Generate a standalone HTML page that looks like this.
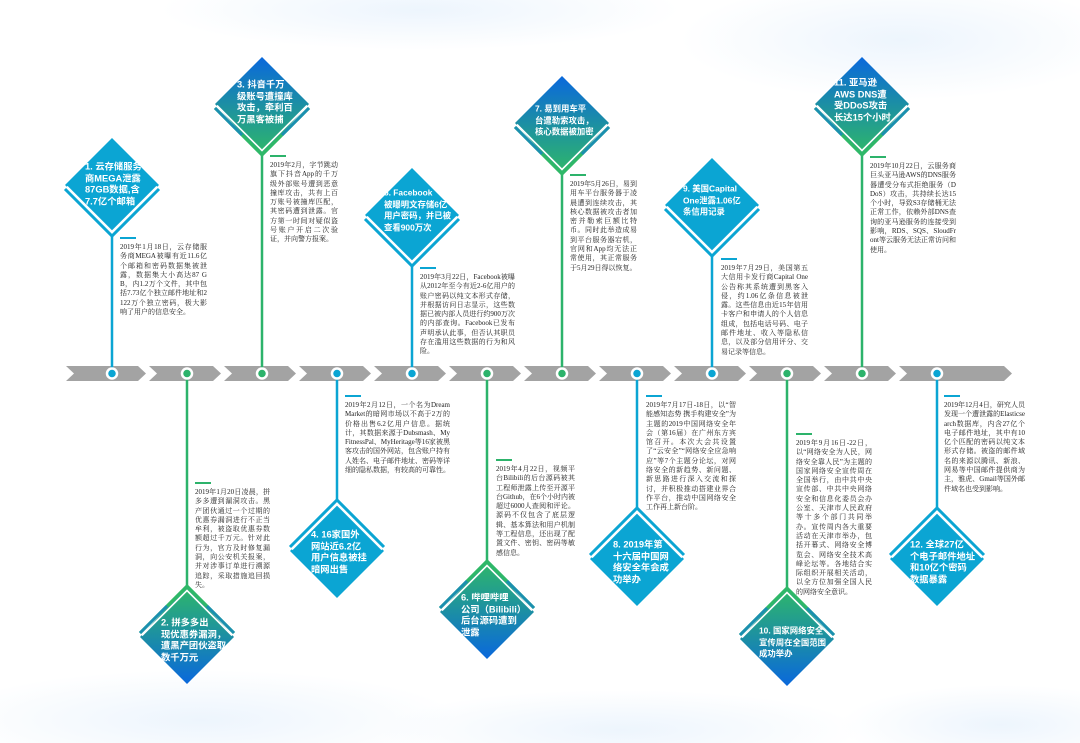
<!DOCTYPE html>
<html><head><meta charset="utf-8"><style>
html,body{margin:0;padding:0}
body{width:1080px;height:743px;position:relative;overflow:hidden;background:#fff;font-family:"Liberation Sans","Noto Sans CJK SC",sans-serif}
svg{position:absolute;left:0;top:0}
.t{position:absolute;color:#fff;font-size:9.3px;line-height:11.7px;font-weight:bold;white-space:nowrap;transform:translateY(-50%)}
.s{font-size:8.4px}
.d{position:absolute;font-family:"Liberation Serif","Noto Serif CJK SC",serif;font-size:7px;line-height:9.3px;color:#222;text-align:justify;word-break:break-all}
</style></head><body>
<svg width="1080" height="743" viewBox="0 0 1080 743">
<defs>
<linearGradient id="g" x1="0" y1="0" x2="0" y2="1"><stop offset="0" stop-color="#0a68dc"/><stop offset="1" stop-color="#2fb868"/></linearGradient>
<radialGradient id="bg1" cx="0.5" cy="0.5" r="0.5"><stop offset="0" stop-color="#edf5fd"/><stop offset="1" stop-color="#edf5fd" stop-opacity="0"/></radialGradient>
</defs>
<ellipse cx="420" cy="10" rx="260" ry="40" fill="url(#bg1)"/>
<ellipse cx="900" cy="40" rx="220" ry="60" fill="url(#bg1)"/>
<ellipse cx="200" cy="720" rx="260" ry="50" fill="url(#bg1)"/>
<ellipse cx="620" cy="730" rx="240" ry="40" fill="url(#bg1)"/>
<ellipse cx="1000" cy="725" rx="160" ry="40" fill="url(#bg1)"/>
<g fill="#a3a3a3">
<polygon points="66,366 138,366 146,373.5 138,381 66,381 74,373.5"/>
<polygon points="149,366 213,366 221,373.5 213,381 149,381 157,373.5"/>
<polygon points="224,366 288,366 296,373.5 288,381 224,381 232,373.5"/>
<polygon points="299,366 363,366 371,373.5 363,381 299,381 307,373.5"/>
<polygon points="374,366 438,366 446,373.5 438,381 374,381 382,373.5"/>
<polygon points="449,366 513,366 521,373.5 513,381 449,381 457,373.5"/>
<polygon points="524,366 588,366 596,373.5 588,381 524,381 532,373.5"/>
<polygon points="599,366 663,366 671,373.5 663,381 599,381 607,373.5"/>
<polygon points="674,366 738,366 746,373.5 738,381 674,381 682,373.5"/>
<polygon points="749,366 813,366 821,373.5 813,381 749,381 757,373.5"/>
<polygon points="824,366 888,366 896,373.5 888,381 824,381 832,373.5"/>
<polygon points="899,366 1004,366 1012,373.5 1004,381 899,381 907,373.5"/>
</g>
<g stroke-width="2.5">
<line x1="112" y1="234" x2="112" y2="373" stroke="#0ba5d3"/>
<line x1="262" y1="153" x2="262" y2="373" stroke="#2db36b"/>
<line x1="412" y1="264" x2="412" y2="373" stroke="#0ba5d3"/>
<line x1="562" y1="172" x2="562" y2="373" stroke="#2db36b"/>
<line x1="712" y1="254" x2="712" y2="373" stroke="#0ba5d3"/>
<line x1="862" y1="153" x2="862" y2="373" stroke="#2db36b"/>
<line x1="187" y1="373" x2="187" y2="588" stroke="#2db36b"/>
<line x1="337" y1="373" x2="337" y2="502" stroke="#0ba5d3"/>
<line x1="487" y1="373" x2="487" y2="563" stroke="#2db36b"/>
<line x1="637" y1="373" x2="637" y2="510" stroke="#0ba5d3"/>
<line x1="787" y1="373" x2="787" y2="590" stroke="#2db36b"/>
<line x1="937" y1="373" x2="937" y2="510" stroke="#0ba5d3"/>
</g>
<g stroke-width="2">
<line x1="120" y1="238" x2="136" y2="238" stroke="#0ba5d3"/>
<line x1="270" y1="156" x2="286" y2="156" stroke="#2db36b"/>
<line x1="420" y1="268" x2="436" y2="268" stroke="#0ba5d3"/>
<line x1="570" y1="175" x2="586" y2="175" stroke="#2db36b"/>
<line x1="721" y1="259" x2="737" y2="259" stroke="#0ba5d3"/>
<line x1="870" y1="157" x2="886" y2="157" stroke="#2db36b"/>
<line x1="195" y1="483" x2="211" y2="483" stroke="#2db36b"/>
<line x1="345" y1="396" x2="361" y2="396" stroke="#0ba5d3"/>
<line x1="496" y1="460" x2="512" y2="460" stroke="#2db36b"/>
<line x1="646" y1="396" x2="662" y2="396" stroke="#0ba5d3"/>
<line x1="796" y1="434" x2="812" y2="434" stroke="#2db36b"/>
<line x1="944" y1="396" x2="960" y2="396" stroke="#0ba5d3"/>
</g>
<g stroke="#fff" stroke-width="2.5">
<circle cx="112" cy="373.5" r="5" fill="#0ba5d3"/>
<circle cx="187" cy="373.5" r="5" fill="#2db36b"/>
<circle cx="262" cy="373.5" r="5" fill="#2db36b"/>
<circle cx="337" cy="373.5" r="5" fill="#0ba5d3"/>
<circle cx="412" cy="373.5" r="5" fill="#0ba5d3"/>
<circle cx="487" cy="373.5" r="5" fill="#2db36b"/>
<circle cx="562" cy="373.5" r="5" fill="#2db36b"/>
<circle cx="637" cy="373.5" r="5" fill="#0ba5d3"/>
<circle cx="712" cy="373.5" r="5" fill="#0ba5d3"/>
<circle cx="787" cy="373.5" r="5" fill="#2db36b"/>
<circle cx="862" cy="373.5" r="5" fill="#2db36b"/>
<circle cx="937" cy="373.5" r="5" fill="#0ba5d3"/>
</g>
<defs>
<g id="ds"><polygon points="0,-47 47,0 0,47 -47,0" fill="#0ba5d3"/><polyline points="-47,4 0,51 47,4" fill="none" stroke="#0ba5d3" stroke-width="3"/><polyline points="-45,1.5 0,46.5 45,1.5" fill="none" stroke="#fff" stroke-width="1.6"/></g>
<g id="dg"><polygon points="0,-47 47,0 0,51 -47,0" fill="url(#g)"/><polyline points="-47,4 0,51 47,4" fill="none" stroke="#2fb868" stroke-width="3"/><polyline points="-47,4 -20,31" fill="none" stroke="#1b8fb0" stroke-width="3"/><polyline points="47,4 20,31" fill="none" stroke="#1b8fb0" stroke-width="3"/><polyline points="-45,1.5 0,46.5 45,1.5" fill="none" stroke="#fff" stroke-width="1.6"/></g>
</defs>
<use href="#ds" transform="translate(112,185)"/>
<use href="#dg" transform="translate(262,104)"/>
<use href="#ds" transform="translate(412,215)"/>
<use href="#dg" transform="translate(562,123)"/>
<use href="#ds" transform="translate(712,205)"/>
<use href="#dg" transform="translate(862,104)"/>
<use href="#dg" transform="translate(187,637) scale(1,-1)"/>
<use href="#ds" transform="translate(337,551) scale(1,-1)"/>
<use href="#dg" transform="translate(487,612) scale(1,-1)"/>
<use href="#ds" transform="translate(637,559) scale(1,-1)"/>
<use href="#dg" transform="translate(787,639) scale(1,-1)"/>
<use href="#ds" transform="translate(937,559) scale(1,-1)"/>
</svg>

<div class="t" style="left:85px;top:185px">1. 云存储服务<br>商MEGA泄露<br>87GB数据,含<br>7.7亿个邮箱</div>
<div class="t" style="left:237px;top:103px">3. 抖音千万<br>级账号遭撞库<br>攻击，牵利百<br>万黑客被捕</div>
<div class="t s" style="left:384px;top:211px">5. Facebook<br>被曝明文存储6亿<br>用户密码，并已被<br>查看900万次</div>
<div class="t s" style="left:535px;top:121px">7. 易到用车平<br>台遭勒索攻击，<br>核心数据被加密</div>
<div class="t s" style="left:683px;top:201px">9. 美国Capital<br>One泄露1.06亿<br>条信用记录</div>
<div class="t" style="left:834px;top:101px">11. 亚马逊<br>AWS DNS遭<br>受DDoS攻击<br>长达15个小时</div>
<div class="t" style="left:161px;top:641px">2. 拼多多出<br>现优惠券漏洞，<br>遭黑产团伙盗取<br>数千万元</div>
<div class="t" style="left:311px;top:553px">4. 16家国外<br>网站近6.2亿<br>用户信息被挂<br>暗网出售</div>
<div class="t" style="left:461px;top:616px">6. 哔哩哔哩<br>公司（Bilibili）<br>后台源码遭到<br>泄露</div>
<div class="t" style="left:613px;top:563px">8. 2019年第<br>十六届中国网<br>络安全年会成<br>功举办</div>
<div class="t s" style="left:759px;top:643px">10. 国家网络安全<br>宣传周在全国范围<br>成功举办</div>
<div class="t" style="left:910px;top:563px">12. 全球27亿<br>个电子邮件地址<br>和10亿个密码<br>数据暴露</div>

<div class="d" style="left:120px;top:243px;width:87px">2019年1月18日，云存储服务商MEGA被曝有近11.6亿个邮箱和密码数据集被泄露，数据集大小高达87 GB，内1.2万个文件，其中包括7.73亿个独立邮件地址和2122万个独立密码，极大影响了用户的信息安全。</div>
<div class="d" style="left:270px;top:161px;width:68px">2019年2月，字节跳动旗下抖音App的千万级外部账号遭到恶意撞库攻击，共有上百万账号被撞库匹配，其密码遭到泄露。官方第一时间对疑似盗号账户开启二次验证，并向警方报案。</div>
<div class="d" style="left:420px;top:273px;width:95px">2019年3月22日，Facebook被曝从2012年至今有近2-6亿用户的账户密码以纯文本形式存储，并根据访问日志显示，这些数据已被内部人员进行约900万次的内部查询。Facebook已发布声明承认此事，但否认其职员存在滥用这些数据的行为和风险。</div>
<div class="d" style="left:570px;top:180px;width:67px">2019年5月26日，易到用车平台服务器于凌晨遭到连续攻击，其核心数据被攻击者加密并勒索巨额比特币。同时此举造成易到平台服务器宕机，官网和App均无法正常使用，其正常服务于5月29日得以恢复。</div>
<div class="d" style="left:721px;top:264px;width:87px">2019年7月29日，美国第五大信用卡发行商Capital One公告称其系统遭到黑客入侵，约1.06亿条信息被泄露。这些信息由近15年信用卡客户和申请人的个人信息组成，包括电话号码、电子邮件地址、收入等隐私信息，以及部分信用评分、交易记录等信息。</div>
<div class="d" style="left:870px;top:162px;width:86px">2019年10月22日，云服务商巨头亚马逊AWS的DNS服务器遭受分布式拒绝服务（DDoS）攻击，共持续长达15个小时，导致S3存储桶无法正常工作，依赖外部DNS查询的亚马逊服务的连接受到影响，RDS、SQS、SloudFront等云服务无法正常访问和使用。</div>
<div class="d" style="left:195px;top:488px;width:75px">2019年1月20日凌晨，拼多多遭到漏洞攻击。黑产团伙通过一个过期的优惠券漏洞进行不正当牟利，被盗取优惠券数额超过千万元。针对此行为，官方及时修复漏洞，向公安机关报案，并对涉事订单进行溯源追踪，采取措施追回损失。</div>
<div class="d" style="left:345px;top:401px;width:105px">2019年2月12日，一个名为Dream Market的暗网市场以不高于2万的价格出售6.2亿用户信息。据统计，其数据来源于Dubsmash、MyFitnessPal、MyHeritage等16家被黑客攻击的国外网站，包含账户持有人姓名、电子邮件地址、密码等详细的隐私数据，有较高的可靠性。</div>
<div class="d" style="left:496px;top:465px;width:79px">2019年4月22日，视频平台Bilibili的后台源码被其工程师泄露上传至开源平台Github，在6个小时内被超过6000人查阅和评论。源码不仅包含了底层逻辑、基本算法和用户机制等工程信息，还出现了配置文件、密钥、密码等敏感信息。</div>
<div class="d" style="left:646px;top:401px;width:90px">2019年7月17日-18日，以“智能感知态势 携手构建安全”为主题的2019中国网络安全年会（第16届）在广州东方宾馆召开。本次大会共设置了“云安全”“网络安全应急响应”等7个主题分论坛，对网络安全的新趋势、新问题、新思路进行深入交流和探讨，并积极推动搭建业界合作平台，推动中国网络安全工作再上新台阶。</div>
<div class="d" style="left:796px;top:439px;width:76px">2019年9月16日-22日，以“网络安全为人民，网络安全靠人民”为主题的国家网络安全宣传周在全国举行，由中共中央宣传部、中共中央网络安全和信息化委员会办公室、天津市人民政府等十多个部门共同举办。宣传周内各大重要活动在天津市举办，包括开幕式、网络安全博览会、网络安全技术高峰论坛等。各地结合实际组织开展相关活动，以全方位加强全国人民的网络安全意识。</div>
<div class="d" style="left:944px;top:401px;width:81px">2019年12月4日，研究人员发现一个遭泄露的Elasticsearch数据库，内含27亿个电子邮件地址，其中有10亿个匹配的密码以纯文本形式存储。被盗的邮件域名的来源以腾讯、新浪、网易等中国邮件提供商为主，雅虎、Gmail等国外邮件域名也受到影响。</div>
</body></html>
